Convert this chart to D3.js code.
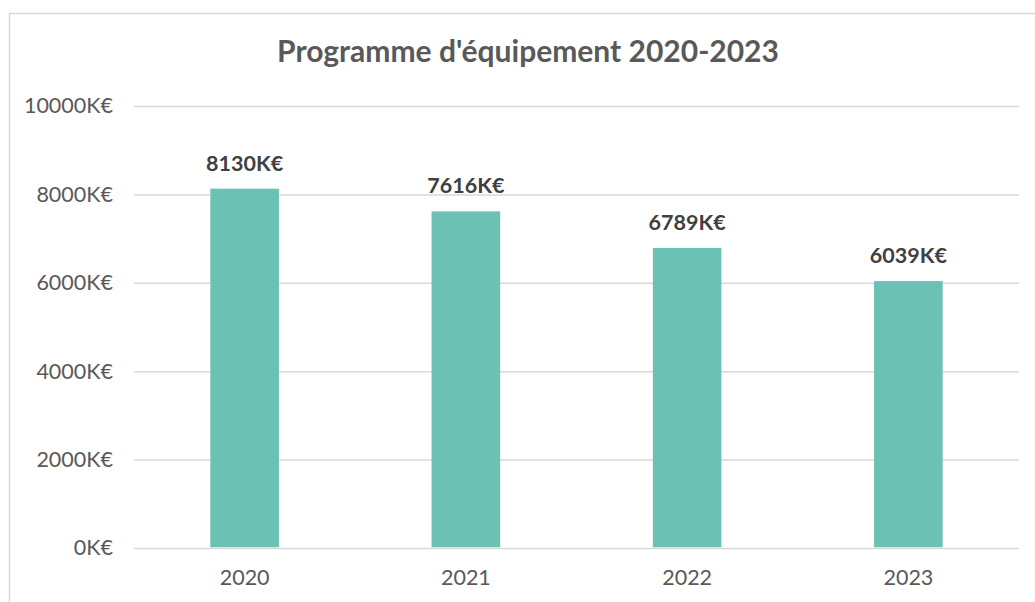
<!DOCTYPE html>
<html><head><meta charset="utf-8">
<script src="https://cdn.jsdelivr.net/npm/d3@7"></script>
<style>
html,body{margin:0;padding:0;background:#fff;}
svg{display:block;}
</style></head>
<body>
<svg id="c" width="1035" height="602"></svg>
<script>
const categories = ["2020", "2021", "2022", "2023"];
const values = [8130, 7616, 6789, 6039];
const yTicks = [0, 2000, 4000, 6000, 8000, 10000];
const title = "Programme d'équipement 2020-2023";
const fmt = v => v + "K€";

const svg = d3.select("#c");
const font = "Lato, sans-serif";
const m = {left: 134, right: 1019, top: 106, bottom: 548};

// chart border
svg.append("rect").attr("x", 9.5).attr("y", 13.5).attr("width", 1040).attr("height", 620)
  .attr("fill", "#fff").attr("stroke", "#d9d9d9").attr("stroke-width", 1.5);

const x = d3.scaleBand().domain(categories).range([m.left, m.right]).paddingInner(0.69).paddingOuter(0.345);
const y = d3.scaleLinear().domain([0, 10000]).range([m.bottom, m.top]);

// gridlines + y labels
const yAxis = d3.axisLeft(y).tickValues(yTicks).tickFormat(fmt).tickSize(-(m.right - m.left)).tickPadding(21);
const gy = svg.append("g").attr("transform", `translate(${m.left},0)`).call(yAxis);
gy.select(".domain").remove();
gy.selectAll(".tick line").attr("stroke", "#d9d9d9").attr("stroke-width", 1.5);
gy.selectAll(".tick text").attr("fill", "#595959").style("font-family", font).style("font-size", "21.5px");

// x labels
const xAxis = d3.axisBottom(x).tickSize(0).tickPadding(22);
const gx = svg.append("g").attr("transform", `translate(0,${m.bottom})`).call(xAxis);
gx.select(".domain").remove();
gx.selectAll(".tick text").attr("fill", "#595959").style("font-family", font).style("font-size", "21.5px");

// bars
svg.append("g").selectAll("rect").data(values).join("rect")
  .attr("x", (d, i) => x(categories[i]))
  .attr("width", x.bandwidth())
  .attr("y", d => y(d))
  .attr("height", d => y(0) - y(d) - 0.75)
  .attr("fill", "#6ac1b4");

// data labels
svg.append("g").selectAll("text").data(values).join("text")
  .attr("x", (d, i) => x(categories[i]) + x.bandwidth() / 2)
  .attr("y", d => y(d) - 18)
  .attr("text-anchor", "middle")
  .attr("fill", "#404040")
  .style("font-family", font).style("font-size", "21.5px").style("font-weight", "bold")
  .text(fmt);

// title
svg.append("text").attr("x", 528).attr("y", 62).attr("text-anchor", "middle")
  .attr("fill", "#595959").style("font-family", font).style("font-size", "30px").style("font-weight", "bold")
  .text(title);
</script>
</body></html>
